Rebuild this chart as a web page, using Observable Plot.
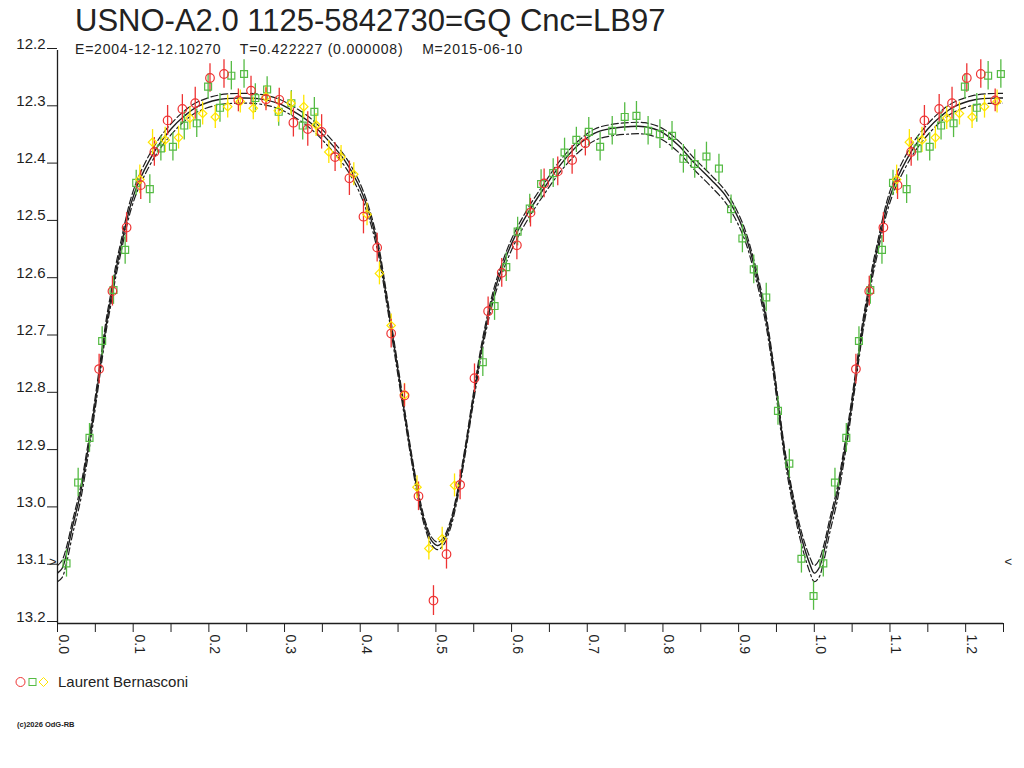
<!DOCTYPE html>
<html>
<head>
<meta charset="utf-8">
<script src="https://cdn.jsdelivr.net/npm/d3@7"></script>
<script src="https://cdn.jsdelivr.net/npm/@observablehq/plot@0.6"></script>
<style>
  body { margin: 0; background: #fff; font-family: "Liberation Sans", Arial, sans-serif; color: #222; }
  #page { position: relative; width: 1024px; height: 768px; overflow: hidden; }
  #chart { position: absolute; left: 0; top: 0; }
  .title { position: absolute; left: 75px; top: 3px; font-size: 31px; white-space: pre; }
  .sub { position: absolute; left: 75px; top: 41px; font-size: 14px; letter-spacing: 0.8px; white-space: pre; }
  .legend { position: absolute; left: 14px; top: 673px; font-size: 15px; display: flex; align-items: center; }
  .legend svg { margin-right: 6px; }
  .copy { position: absolute; left: 17px; top: 720px; font-size: 7.5px; font-weight: bold; }
</style>
</head>
<body>
<div id="page">
  <div id="chart"></div>
  <div class="title">USNO-A2.0 1125-5842730=GQ Cnc=LB97</div>
  <div class="sub">E=2004-12-12.10270    T=0.422227 (0.000008)    M=2015-06-10</div>
  <div class="legend">
    <svg width="38" height="12">
      <circle cx="6.5" cy="6" r="4.5" fill="none" stroke="#ee3333"/>
      <rect x="15" y="2.5" width="7" height="7" fill="none" stroke="#55bb44"/>
      <path d="M29.5 1.5 L34 6 L29.5 10.5 L25 6 Z" fill="none" stroke="#ffe600"/>
    </svg>
    <span>Laurent Bernasconi</span>
  </div>
  <div class="copy">(c)2026 OdG-RB</div>
</div>
<script>
// observations: [phase, magnitude, error]
const redObs = [
  [0.055, 12.756, 0.026], [0.0726, 12.620, 0.026], [0.0913, 12.509, 0.026], [0.110, 12.435, 0.025],
  [0.128, 12.377, 0.025], [0.1455, 12.322, 0.026], [0.165, 12.302, 0.025], [0.182, 12.292, 0.028],
  [0.2015, 12.248, 0.025], [0.220, 12.241, 0.025], [0.239, 12.287, 0.02], [0.2557, 12.270, 0.025],
  [0.2755, 12.285, 0.02], [0.293, 12.286, 0.02], [0.3117, 12.326, 0.025], [0.3307, 12.337, 0.03],
  [0.349, 12.342, 0.03], [0.3668, 12.386, 0.025], [0.3857, 12.423, 0.03], [0.4043, 12.490, 0.03],
  [0.4224, 12.544, 0.025], [0.4409, 12.694, 0.025], [0.4585, 12.802, 0.02], [0.477, 12.978, 0.025],
  [0.4968, 13.160, 0.026], [0.514, 13.079, 0.026], [0.532, 12.958, 0.026], [0.551, 12.772, 0.025],
  [0.569, 12.655, 0.025], [0.587, 12.588, 0.025], [0.607, 12.540, 0.025], [0.625, 12.483, 0.025],
  [0.643, 12.432, 0.025], [0.661, 12.411, 0.025], [0.680, 12.391, 0.025], [0.6975, 12.362, 0.022]
];
const greenObs = [
  [0.0119, 13.095, 0.024], [0.0273, 12.954, 0.025], [0.0423, 12.876, 0.025], [0.059, 12.707, 0.025],
  [0.074, 12.618, 0.025], [0.0894, 12.548, 0.025], [0.104, 12.431, 0.022], [0.122, 12.442, 0.025],
  [0.1366, 12.371, 0.022], [0.1525, 12.368, 0.025], [0.1675, 12.331, 0.025], [0.184, 12.327, 0.025],
  [0.199, 12.263, 0.022], [0.2147, 12.300, 0.025], [0.2297, 12.244, 0.025], [0.2465, 12.241, 0.025],
  [0.2614, 12.283, 0.025], [0.277, 12.268, 0.022], [0.2923, 12.307, 0.025], [0.309, 12.292, 0.022],
  [0.324, 12.331, 0.025], [0.3394, 12.307, 0.025], [0.562, 12.744, 0.025], [0.5775, 12.646, 0.025],
  [0.593, 12.578, 0.025], [0.608, 12.516, 0.025], [0.624, 12.476, 0.025], [0.639, 12.433, 0.025],
  [0.655, 12.414, 0.025], [0.670, 12.378, 0.025], [0.6856, 12.356, 0.022], [0.702, 12.342, 0.025],
  [0.717, 12.368, 0.025], [0.733, 12.340, 0.025], [0.7495, 12.316, 0.025], [0.765, 12.314, 0.025],
  [0.7804, 12.340, 0.025], [0.796, 12.346, 0.025], [0.812, 12.349, 0.025], [0.827, 12.389, 0.025],
  [0.842, 12.398, 0.025], [0.8575, 12.385, 0.025], [0.874, 12.406, 0.025], [0.890, 12.477, 0.025],
  [0.905, 12.528, 0.025], [0.920, 12.582, 0.025], [0.9365, 12.631, 0.025], [0.952, 12.829, 0.025],
  [0.967, 12.921, 0.025], [0.983, 13.087, 0.025], [0.999, 13.152, 0.025]
];
const yellowObs = [
  [0.1088, 12.425, 0.025], [0.1256, 12.360, 0.022], [0.1423, 12.356, 0.022], [0.160, 12.352, 0.02],
  [0.175, 12.318, 0.02], [0.1918, 12.310, 0.02], [0.2085, 12.316, 0.02], [0.2249, 12.298, 0.02],
  [0.2415, 12.289, 0.02], [0.2587, 12.301, 0.02], [0.2755, 12.281, 0.02], [0.2918, 12.305, 0.02],
  [0.3086, 12.292, 0.02], [0.3254, 12.298, 0.02], [0.3417, 12.330, 0.02], [0.3585, 12.377, 0.02],
  [0.3747, 12.386, 0.02], [0.3915, 12.416, 0.02], [0.409, 12.486, 0.02], [0.4254, 12.589, 0.02],
  [0.4409, 12.680, 0.02], [0.4585, 12.801, 0.02], [0.475, 12.962, 0.02], [0.4907, 13.069, 0.02],
  [0.5083, 13.052, 0.02], [0.5246, 12.959, 0.02]
];

// fitted light curve and its envelope, read at these phases
const curvePhase = [0.000, 0.006, 0.012, 0.020, 0.030, 0.038, 0.045, 0.052, 0.058, 0.065, 0.071, 0.077, 0.083, 0.090, 0.097, 0.105, 0.115, 0.132, 0.150, 0.168, 0.185, 0.212, 0.238, 0.265, 0.291, 0.313, 0.335, 0.357, 0.379, 0.397, 0.410, 0.423, 0.434, 0.445, 0.456, 0.467, 0.478, 0.487, 0.494, 0.502, 0.509, 0.518, 0.527, 0.538, 0.549, 0.560, 0.571, 0.582, 0.600, 0.620, 0.643, 0.666, 0.688, 0.710, 0.732, 0.754, 0.776, 0.798, 0.820, 0.842, 0.864, 0.882, 0.895, 0.908, 0.921, 0.934, 0.944, 0.952, 0.961, 0.972, 0.983, 0.994, 1.000];
const curveMid = [13.112, 13.104, 13.078, 13.030, 12.975, 12.915, 12.858, 12.795, 12.738, 12.674, 12.630, 12.585, 12.548, 12.505, 12.468, 12.437, 12.408, 12.368, 12.337, 12.314, 12.298, 12.286, 12.283, 12.284, 12.292, 12.307, 12.327, 12.356, 12.391, 12.432, 12.476, 12.540, 12.625, 12.717, 12.811, 12.904, 12.985, 13.032, 13.055, 13.064, 13.058, 13.032, 12.985, 12.904, 12.811, 12.723, 12.653, 12.600, 12.537, 12.487, 12.440, 12.397, 12.365, 12.344, 12.336, 12.333, 12.333, 12.342, 12.365, 12.397, 12.426, 12.452, 12.480, 12.519, 12.578, 12.653, 12.735, 12.815, 12.904, 12.985, 13.050, 13.096, 13.112];
const curveUpper = [13.099, 13.090, 13.066, 13.020, 12.965, 12.905, 12.848, 12.785, 12.728, 12.664, 12.620, 12.575, 12.538, 12.495, 12.458, 12.427, 12.398, 12.358, 12.328, 12.305, 12.290, 12.278, 12.275, 12.276, 12.284, 12.299, 12.319, 12.348, 12.383, 12.424, 12.468, 12.532, 12.617, 12.709, 12.803, 12.897, 12.978, 13.026, 13.049, 13.058, 13.052, 13.026, 12.978, 12.897, 12.803, 12.715, 12.645, 12.592, 12.529, 12.479, 12.432, 12.389, 12.358, 12.337, 12.329, 12.326, 12.326, 12.335, 12.357, 12.389, 12.418, 12.444, 12.472, 12.511, 12.570, 12.645, 12.727, 12.807, 12.896, 12.976, 13.040, 13.084, 13.099];
const curveLower = [13.127, 13.120, 13.094, 13.044, 12.988, 12.927, 12.869, 12.805, 12.748, 12.684, 12.640, 12.595, 12.558, 12.515, 12.478, 12.447, 12.418, 12.378, 12.347, 12.323, 12.307, 12.295, 12.292, 12.293, 12.301, 12.316, 12.337, 12.366, 12.401, 12.442, 12.486, 12.550, 12.634, 12.726, 12.819, 12.911, 12.992, 13.039, 13.062, 13.071, 13.065, 13.039, 12.992, 12.911, 12.819, 12.732, 12.662, 12.610, 12.548, 12.498, 12.451, 12.409, 12.378, 12.357, 12.349, 12.346, 12.346, 12.355, 12.377, 12.409, 12.438, 12.464, 12.492, 12.530, 12.589, 12.664, 12.746, 12.825, 12.914, 12.996, 13.062, 13.110, 13.127];

const yTicks = [12.2, 12.3, 12.4, 12.5, 12.6, 12.7, 12.8, 12.9, 13.0, 13.1, 13.2];
const xMajorTicks = [0, 0.1, 0.2, 0.3, 0.4, 0.5, 0.6, 0.7, 0.8, 0.9, 1.0, 1.1, 1.2];
const xMinorTicks = [0, 0.05, 0.1, 0.15, 0.2, 0.25, 0.3, 0.35, 0.4, 0.45, 0.5, 0.55, 0.6, 0.65, 0.7, 0.75, 0.8, 0.85, 0.9, 0.95, 1.0, 1.05, 1.1, 1.15, 1.2, 1.25];
const limitMag = 13.1;
const phaseMax = 1.25;

const red = "#ee3333", green = "#55bb44", yellow = "#ffe600", ink = "#1e1e1e";

// phases 0..0.25 are shown again after 1.0
const fold = rows => {
  const pts = rows.map(([phase, mag, err]) => ({phase, mag, err}));
  return pts.concat(pts.map(d => ({...d, phase: d.phase + 1}))).filter(d => d.phase <= phaseMax);
};
const curveRows = vals => {
  const pts = curvePhase.map((p, i) => ({phase: p, mag: vals[i]}));
  return pts.concat(pts.filter(d => d.phase > 0 && d.phase < 0.3).map(d => ({...d, phase: d.phase + 1})));
};

const redPts = fold(redObs), greenPts = fold(greenObs), yellowPts = fold(yellowObs);

const errBars = (data, color) => Plot.ruleX(data, {
  x: "phase", y1: d => d.mag - d.err, y2: d => d.mag + d.err, stroke: color, strokeWidth: 1.3, clip: true
});

const chart = Plot.plot({
  width: 1024,
  height: 660,
  marginLeft: 57,
  marginRight: 21,
  marginTop: 50,
  marginBottom: 37,
  style: {fontFamily: "'Liberation Sans', Arial, sans-serif", color: ink, background: "#fff"},
  x: {domain: [0, phaseMax]},
  y: {domain: [13.2, 12.2]},
  marks: [
    Plot.line(curveRows(curveUpper), {x: "phase", y: "mag", stroke: ink, strokeWidth: 1.2, strokeDasharray: "7,3", curve: "catmull-rom", clip: true}),
    Plot.line(curveRows(curveLower), {x: "phase", y: "mag", stroke: ink, strokeWidth: 1.2, strokeDasharray: "7,3,2,3", curve: "catmull-rom", clip: true}),
    Plot.line(curveRows(curveMid), {x: "phase", y: "mag", stroke: ink, strokeWidth: 1.4, curve: "catmull-rom", clip: true}),
    errBars(greenPts, green),
    errBars(yellowPts, yellow),
    errBars(redPts, red),
    Plot.dot(greenPts, {x: "phase", y: "mag", symbol: "square", r: 3.9, stroke: green, strokeWidth: 1.2, fill: "none"}),
    Plot.dot(yellowPts, {x: "phase", y: "mag", symbol: "diamond2", r: 3.8, stroke: yellow, strokeWidth: 1.2, fill: "none"}),
    Plot.dot(redPts, {x: "phase", y: "mag", symbol: "circle", r: 4.3, stroke: red, strokeWidth: 1.2, fill: "none"}),
    Plot.ruleX([0], {stroke: ink, strokeWidth: 1.3}),
    Plot.ruleY([13.2], {stroke: ink, strokeWidth: 1.3}),
    Plot.axisY(yTicks, {tickSize: 10, tickPadding: 2, lineAnchor: "bottom", dy: -2, fontSize: 15, stroke: ink, tickFormat: d3.format(".1f"), label: null}),
    Plot.axisX(xMinorTicks, {tickSize: 9, stroke: ink, tickFormat: () => "", label: null}),
    Plot.axisX(xMajorTicks, {tickSize: 0, tickPadding: 11, tickRotate: 90, dx: 6, fontSize: 14, tickFormat: d3.format(".1f"), label: null}),
    Plot.text([limitMag], {x: 0, y: d => d, text: () => ">", textAnchor: "end", dx: -1, dy: -4, fontSize: 13}),
    Plot.text([limitMag], {x: phaseMax, y: d => d, text: () => "<", textAnchor: "start", dx: 1, dy: -4, fontSize: 13})
  ]
});

document.getElementById("chart").appendChild(chart);
</script>
</body>
</html>
